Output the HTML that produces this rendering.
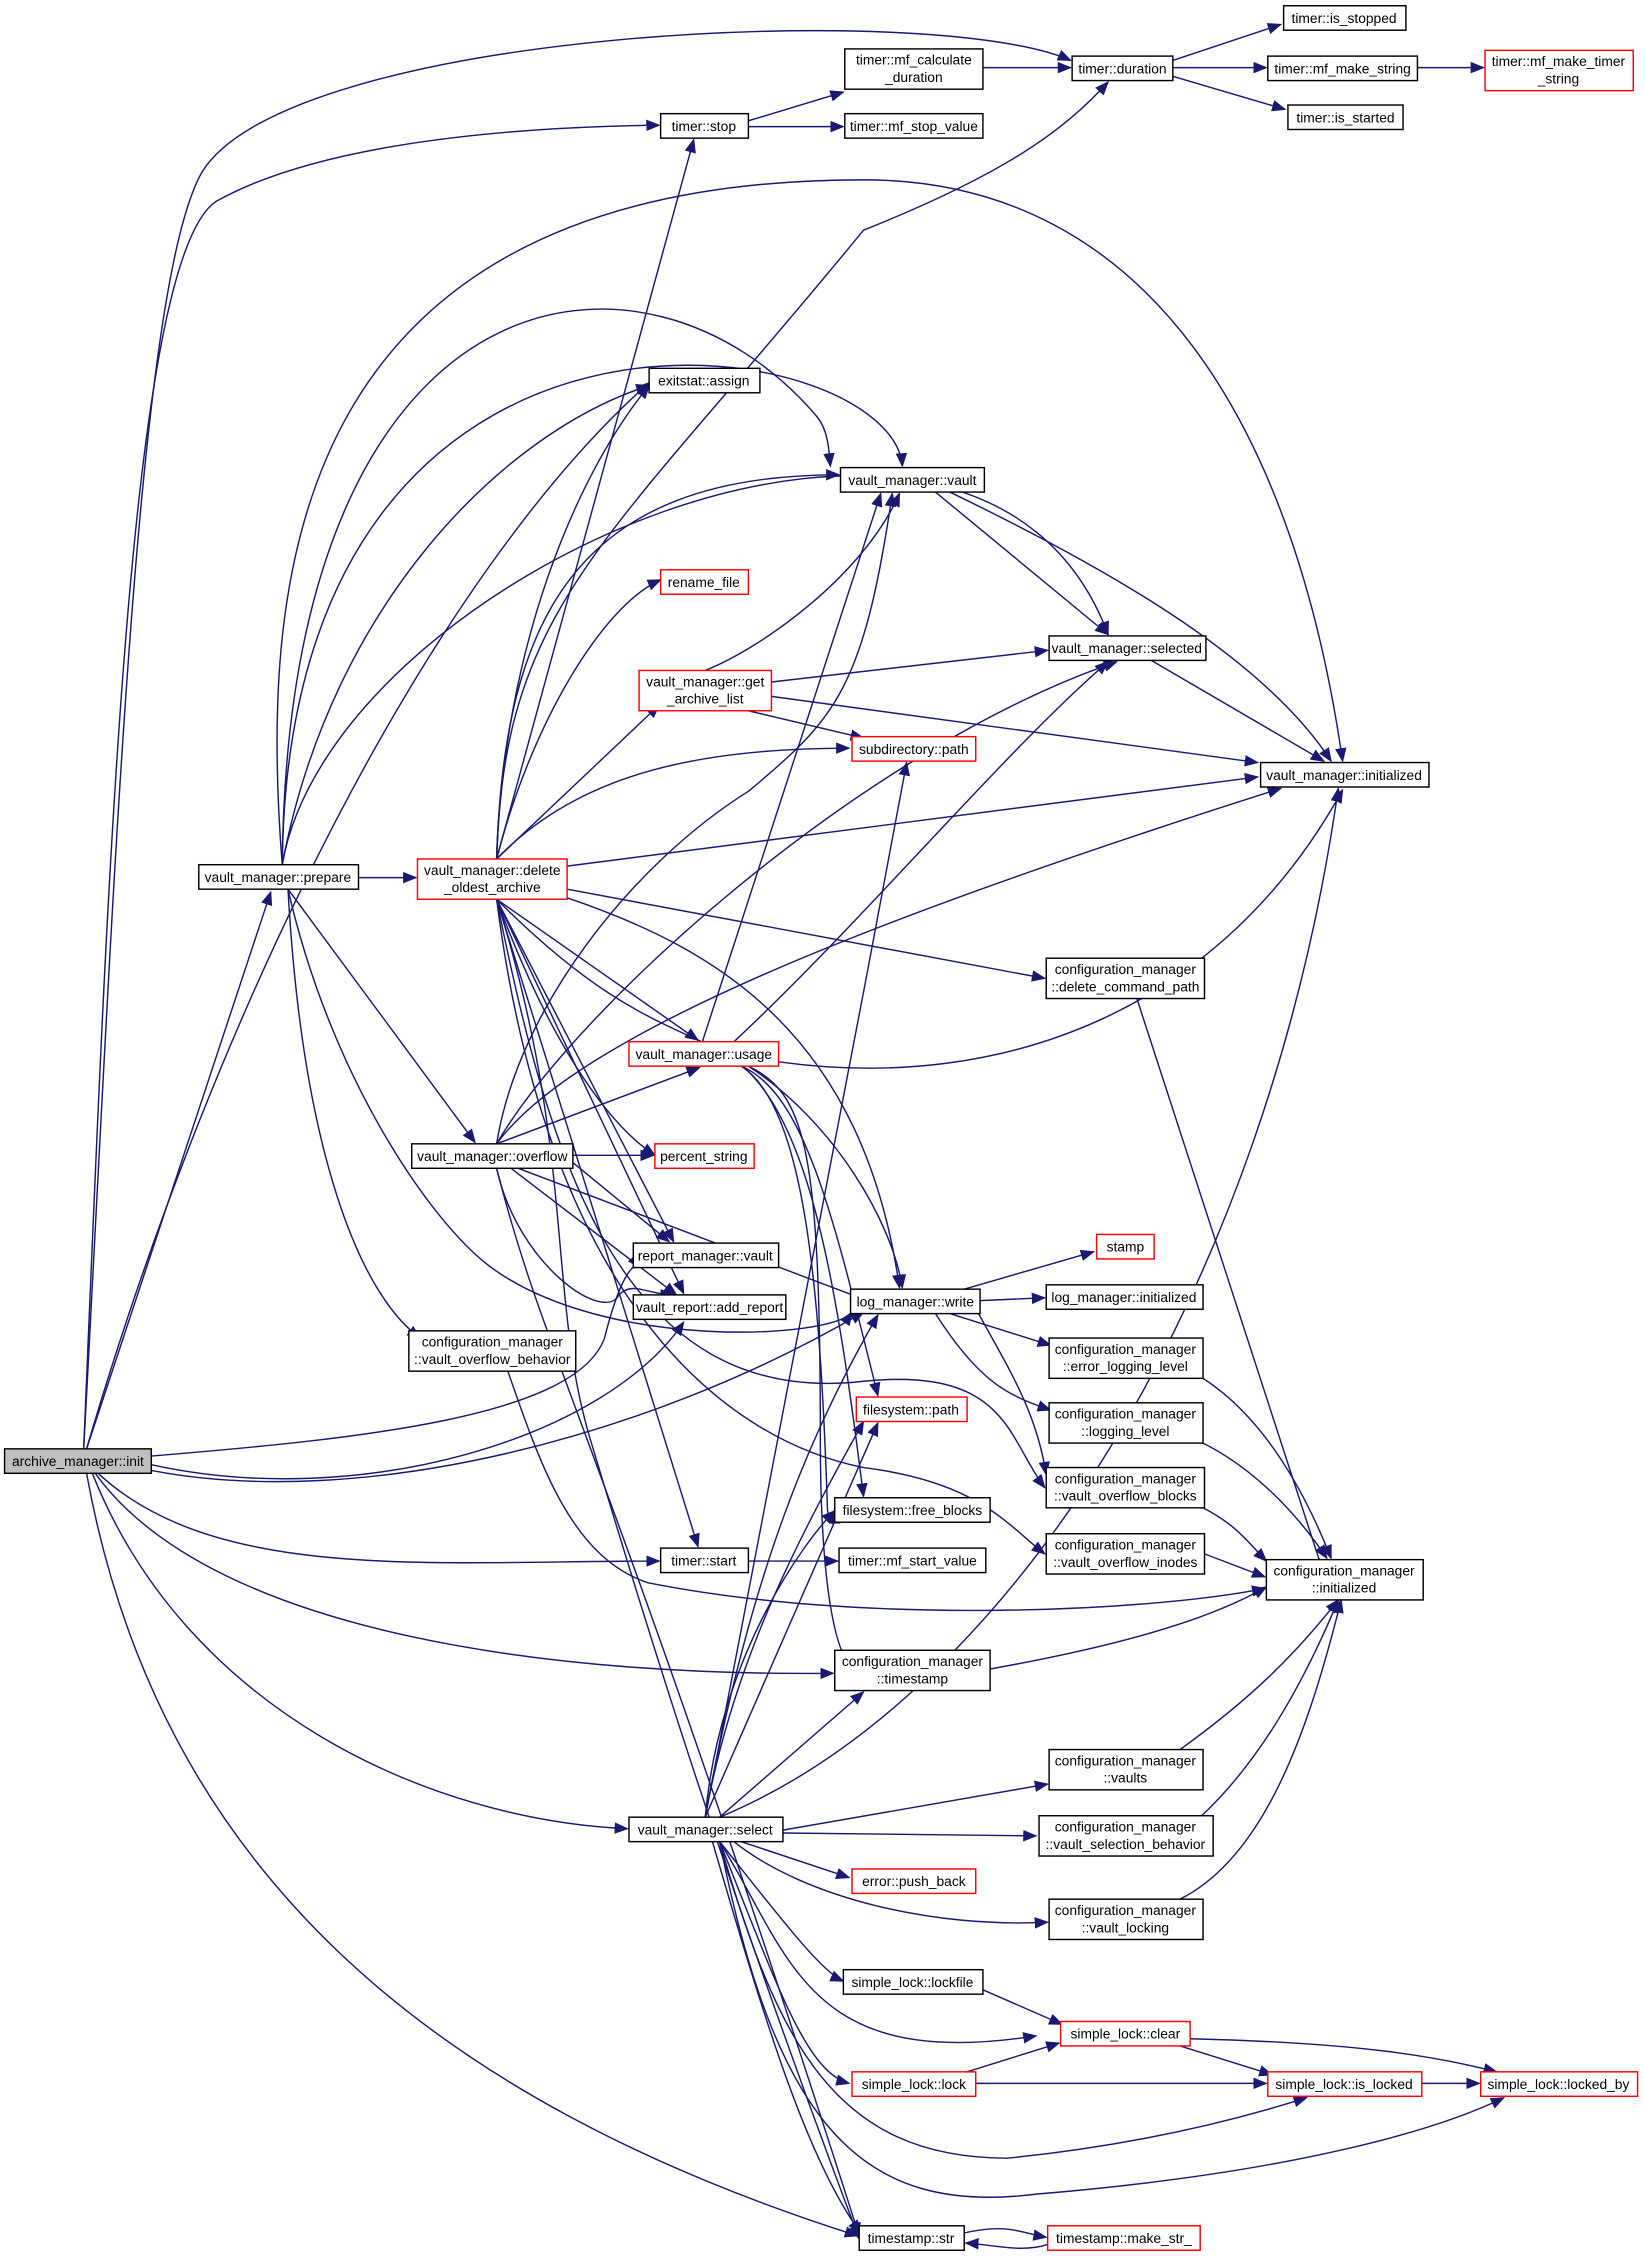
<!DOCTYPE html>
<html><head><meta charset="utf-8"><style>
html,body{margin:0;padding:0;background:#fff}
svg{display:block}
text{font-family:"Liberation Sans",sans-serif;font-size:9.6px;fill:#000;text-anchor:middle}
.b{fill:#fff;stroke:#000;stroke-width:1}
.r{fill:#fff;stroke:#f00;stroke-width:1}
.e{fill:none;stroke:#191970;stroke-width:1}
</style></head><body>
<svg width="1645" height="2256" viewBox="0 0 1143 1568" xmlns="http://www.w3.org/2000/svg">
<defs><marker id="a" markerUnits="userSpaceOnUse" markerWidth="10" markerHeight="8" refX="9" refY="4" orient="auto"><path d="M0,0 L10,4 L0,8 z" fill="#191970"/></marker></defs>
<g class="e" marker-end="url(#a)">
<!-- init edges -->
<path d="M58,1007 C80,600 95,200 140,120 C200,20 650,0 744,42"/>
<path d="M58,1007 C75,600 90,180 150,140 C230,95 380,88 458,87"/>
<path d="M60,1007 C150,700 300,400 451,266"/>
<path d="M60,1007 L188,620"/>
<path d="M105,1012 C250,1000 400,985 420,930 C430,890 440,875 445,881"/>
<path d="M105,1018 C250,1050 420,1000 475,919"/>
<path d="M105,1022 C250,1050 450,1000 600,912"/>
<path d="M68,1024 C150,1100 300,1085 458,1085"/>
<path d="M66,1024 C150,1140 400,1165 579,1163"/>
<path d="M64,1024 C130,1190 300,1265 436,1271"/>
<path d="M60,1024 C110,1300 300,1460 596,1554"/>
<!-- timer -->
<path d="M520,84 L586,64"/>
<path d="M520,88 L586,88"/>
<path d="M683,47 L744,47"/>
<path d="M815,42 L890,17"/>
<path d="M815,47 L880,47"/>
<path d="M815,53 L893,76"/>
<path d="M985,47 L1031,47"/>
<!-- prepare -->
<path d="M196,601 C180,400 200,125 600,125 C800,125 900,300 933,529"/>
<path d="M196,601 C200,180 450,150 568,290 C576,300 576,315 577,324"/>
<path d="M196,601 C200,160 620,230 627,324"/>
<path d="M196,601 C230,400 680,200 770,441"/>
<path d="M196,601 C230,420 350,300 451,268"/>
<path d="M249,610 L289,610"/>
<path d="M200,618 L330,794"/>
<path d="M200,618 C210,800 250,900 292,930"/>
<path d="M200,618 C230,750 300,850 340,880 C420,940 580,930 592,912"/>
<!-- delete_oldest_archive -->
<path d="M345,597 L482,97"/>
<path d="M345,597 C350,420 420,380 600,160 C700,120 740,90 770,57"/>
<path d="M345,597 C350,450 400,330 451,268"/>
<path d="M345,597 C350,430 400,330 583,330"/>
<path d="M345,597 C370,500 420,420 459,403"/>
<path d="M345,597 L458,490"/>
<path d="M345,597 C400,540 480,520 590,520"/>
<path d="M394,602 L874,540"/>
<path d="M394,618 L726,680"/>
<path d="M345,625 L485,723"/>
<path d="M394,624 C500,660 600,720 625,895"/>
<path d="M345,625 C380,720 420,780 455,803"/>
<path d="M345,625 L468,863"/>
<path d="M345,625 L475,899"/>
<path d="M345,625 L485,1075"/>
<path d="M345,625 C400,800 380,900 410,1000 C440,1100 500,1300 597,1556"/>
<path d="M345,625 C420,700 460,710 500,730 C560,760 580,880 600,1040"/>
<path d="M345,625 C380,800 430,980 600,960 C700,950 700,1000 726,1034"/>
<path d="M345,625 C380,900 500,1000 600,1020 C680,1030 700,1060 726,1080"/>
<!-- usage -->
<path d="M488,724 L612,343"/>
<path d="M510,724 C600,640 700,520 770,460"/>
<path d="M541,738 C700,760 850,700 933,549"/>
<path d="M520,741 C560,760 570,800 570,1000 C570,1100 580,1150 593,1160"/>
<path d="M520,741 C580,780 620,850 627,895"/>
<path d="M515,741 C560,760 580,850 610,970"/>
<path d="M515,741 C560,770 570,900 575,1050 C580,1070 580,1050 580,1050"/>
<!-- get_archive_list -->
<path d="M536,474 L728,452"/>
<path d="M536,484 L874,530"/>
<path d="M520,494 L600,513"/>
<path d="M490,466 C530,450 600,400 625,343"/>
<!-- vault -> -->
<path d="M650,342 L770,441"/>
<path d="M660,342 C780,400 880,460 925,529"/>
<path d="M800,459 L920,529"/>
<!-- overflow -->
<path d="M398,803 L454,803"/>
<path d="M345,795 L486,742"/>
<path d="M345,795 C400,700 600,520 776,460"/>
<path d="M345,795 C400,720 600,640 890,548"/>
<path d="M345,795 C360,700 440,600 520,550 C580,500 600,480 620,343"/>
<path d="M398,808 L465,863"/>
<path d="M355,812 L470,900"/>
<path d="M360,812 L600,903"/>
<path d="M345,812 C380,950 420,1000 597,1554"/>
<path d="M345,812 C360,880 420,920 430,900 C440,890 450,900 468,900"/>
<!-- log write -->
<path d="M670,896 L760,870"/>
<path d="M681,904 L726,902"/>
<path d="M660,913 L730,935"/>
<path d="M650,913 C680,960 700,970 730,980"/>
<path d="M680,913 C700,950 720,980 727,1025"/>
<!-- config stuff -> initialized -->
<path d="M790,694 L917,1085 M917,1085 L917,1084"/>
<path d="M836,958 C870,980 900,1020 925,1083"/>
<path d="M836,1003 C870,1020 900,1050 922,1083"/>
<path d="M836,1048 C860,1060 870,1075 880,1085"/>
<path d="M837,1080 L879,1096"/>
<path d="M688,1160 C800,1140 850,1120 880,1103"/>
<path d="M820,1216 C870,1180 900,1150 930,1112"/>
<path d="M835,1262 C880,1220 910,1160 930,1112"/>
<path d="M820,1320 C880,1290 910,1200 932,1112"/>
<path d="M343,925 C370,1000 390,1080 450,1100 C600,1130 800,1120 879,1104"/>
<!-- timer start -->
<path d="M520,1085 L582,1085"/>
<!-- select -->
<path d="M490,1263 C510,1150 560,1060 600,988"/>
<path d="M490,1263 L610,989"/>
<path d="M490,1263 C520,1100 580,800 630,530"/>
<path d="M490,1263 C500,1150 560,1070 580,1050"/>
<path d="M490,1263 C520,1100 560,1000 610,914"/>
<path d="M500,1263 C700,1180 880,900 930,548"/>
<path d="M500,1263 L600,1176"/>
<path d="M544,1272 L728,1240"/>
<path d="M544,1274 L720,1276"/>
<path d="M515,1280 L590,1305"/>
<path d="M510,1280 C560,1320 650,1340 728,1336"/>
<path d="M500,1280 C540,1330 570,1370 586,1377"/>
<path d="M500,1280 C550,1360 560,1440 720,1415"/>
<path d="M500,1280 C540,1380 560,1440 590,1448"/>
<path d="M500,1280 C540,1420 580,1500 700,1500 C800,1490 870,1470 908,1458"/>
<path d="M500,1280 C540,1480 600,1540 720,1525 C900,1510 1000,1480 1045,1458"/>
<path d="M495,1280 C530,1400 560,1500 598,1552"/>
<!-- simple lock -->
<path d="M683,1383 L738,1407"/>
<path d="M672,1440 L736,1420"/>
<path d="M678,1448 L880,1448"/>
<path d="M827,1417 C950,1420 1000,1430 1040,1440"/>
<path d="M820,1422 L884,1442"/>
<path d="M988,1448 L1028,1448"/>
<!-- timestamp -->
<path d="M670,1552 C700,1545 710,1552 727,1555"/>
<path d="M728,1560 C710,1566 690,1560 671,1559"/>
</g>
<!-- nodes -->
<rect x="3" y="1007" width="102" height="17" fill="#bfbfbf" stroke="#000"/><text x="54" y="1019">archive_manager::init</text>
<rect class="b" x="459" y="79" width="61" height="17"/><text x="489" y="91">timer::stop</text>
<rect class="b" x="587" y="34" width="96" height="28"/><text x="635" y="45">timer::mf_calculate</text><text x="635" y="57">_duration</text>
<rect class="b" x="587" y="79" width="96" height="17"/><text x="635" y="91">timer::mf_stop_value</text>
<rect class="b" x="745" y="39" width="70" height="17"/><text x="780" y="51">timer::duration</text>
<rect class="b" x="892" y="4" width="85" height="17"/><text x="934" y="16">timer::is_stopped</text>
<rect class="b" x="881" y="39" width="104" height="17"/><text x="933" y="51">timer::mf_make_string</text>
<rect class="r" x="1032" y="35" width="103" height="28"/><text x="1083" y="46">timer::mf_make_timer</text><text x="1083" y="58">_string</text>
<rect class="b" x="895" y="73" width="80" height="17"/><text x="935" y="85">timer::is_started</text>
<rect class="b" x="451" y="256" width="77" height="17"/><text x="489" y="268">exitstat::assign</text>
<rect class="b" x="584" y="325" width="100" height="17"/><text x="634" y="337">vault_manager::vault</text>
<rect class="r" x="459" y="396" width="61" height="17"/><text x="489" y="408">rename_file</text>
<rect class="b" x="729" y="442" width="109" height="17"/><text x="783" y="454">vault_manager::selected</text>
<rect class="r" x="444" y="466" width="92" height="28"/><text x="490" y="477">vault_manager::get</text><text x="490" y="489">_archive_list</text>
<rect class="r" x="592" y="512" width="86" height="17"/><text x="635" y="524">subdirectory::path</text>
<rect class="b" x="876" y="530" width="117" height="17"/><text x="934" y="542">vault_manager::initialized</text>
<rect class="b" x="138" y="601" width="111" height="17"/><text x="193" y="613">vault_manager::prepare</text>
<rect class="r" x="290" y="597" width="104" height="28"/><text x="342" y="608">vault_manager::delete</text><text x="342" y="620">_oldest_archive</text>
<rect class="b" x="727" y="666" width="110" height="28"/><text x="782" y="677">configuration_manager</text><text x="782" y="689">::delete_command_path</text>
<rect class="r" x="437" y="724" width="104" height="17"/><text x="489" y="736">vault_manager::usage</text>
<rect class="b" x="286" y="795" width="112" height="17"/><text x="342" y="807">vault_manager::overflow</text>
<rect class="r" x="455" y="795" width="69" height="17"/><text x="489" y="807">percent_string</text>
<rect class="b" x="440" y="864" width="101" height="17"/><text x="490" y="876">report_manager::vault</text>
<rect class="r" x="762" y="858" width="40" height="17"/><text x="782" y="870">stamp</text>
<rect class="b" x="591" y="896" width="90" height="17"/><text x="636" y="908">log_manager::write</text>
<rect class="b" x="727" y="893" width="109" height="17"/><text x="781" y="905">log_manager::initialized</text>
<rect class="b" x="440" y="900" width="106" height="17"/><text x="493" y="912">vault_report::add_report</text>
<rect class="b" x="284" y="925" width="116" height="28"/><text x="342" y="936">configuration_manager</text><text x="342" y="948">::vault_overflow_behavior</text>
<rect class="b" x="729" y="930" width="107" height="28"/><text x="782" y="941">configuration_manager</text><text x="782" y="953">::error_logging_level</text>
<rect class="r" x="595" y="971" width="77" height="17"/><text x="633" y="983">filesystem::path</text>
<rect class="b" x="729" y="975" width="107" height="28"/><text x="782" y="986">configuration_manager</text><text x="782" y="998">::logging_level</text>
<rect class="b" x="727" y="1020" width="110" height="28"/><text x="782" y="1031">configuration_manager</text><text x="782" y="1043">::vault_overflow_blocks</text>
<rect class="b" x="580" y="1041" width="108" height="17"/><text x="634" y="1053">filesystem::free_blocks</text>
<rect class="b" x="727" y="1066" width="110" height="28"/><text x="782" y="1077">configuration_manager</text><text x="782" y="1089">::vault_overflow_inodes</text>
<rect class="b" x="459" y="1076" width="61" height="17"/><text x="489" y="1088">timer::start</text>
<rect class="b" x="583" y="1076" width="102" height="17"/><text x="634" y="1088">timer::mf_start_value</text>
<rect class="b" x="880" y="1084" width="109" height="28"/><text x="934" y="1095">configuration_manager</text><text x="934" y="1107">::initialized</text>
<rect class="b" x="580" y="1147" width="108" height="28"/><text x="634" y="1158">configuration_manager</text><text x="634" y="1170">::timestamp</text>
<rect class="b" x="729" y="1216" width="107" height="28"/><text x="782" y="1227">configuration_manager</text><text x="782" y="1239">::vaults</text>
<rect class="b" x="437" y="1263" width="107" height="17"/><text x="490" y="1275">vault_manager::select</text>
<rect class="b" x="722" y="1262" width="121" height="28"/><text x="782" y="1273">configuration_manager</text><text x="782" y="1285">::vault_selection_behavior</text>
<rect class="r" x="592" y="1299" width="86" height="17"/><text x="635" y="1311">error::push_back</text>
<rect class="b" x="729" y="1320" width="107" height="28"/><text x="782" y="1331">configuration_manager</text><text x="782" y="1343">::vault_locking</text>
<rect class="b" x="586" y="1369" width="97" height="17"/><text x="634" y="1381">simple_lock::lockfile</text>
<rect class="r" x="737" y="1405" width="90" height="17"/><text x="782" y="1417">simple_lock::clear</text>
<rect class="r" x="592" y="1440" width="86" height="17"/><text x="635" y="1452">simple_lock::lock</text>
<rect class="r" x="881" y="1440" width="107" height="17"/><text x="934" y="1452">simple_lock::is_locked</text>
<rect class="r" x="1029" y="1440" width="109" height="17"/><text x="1083" y="1452">simple_lock::locked_by</text>
<rect class="b" x="597" y="1547" width="73" height="17"/><text x="633" y="1559">timestamp::str</text>
<rect class="r" x="728" y="1547" width="106" height="17"/><text x="781" y="1559">timestamp::make_str_</text>
</svg>
</body></html>
